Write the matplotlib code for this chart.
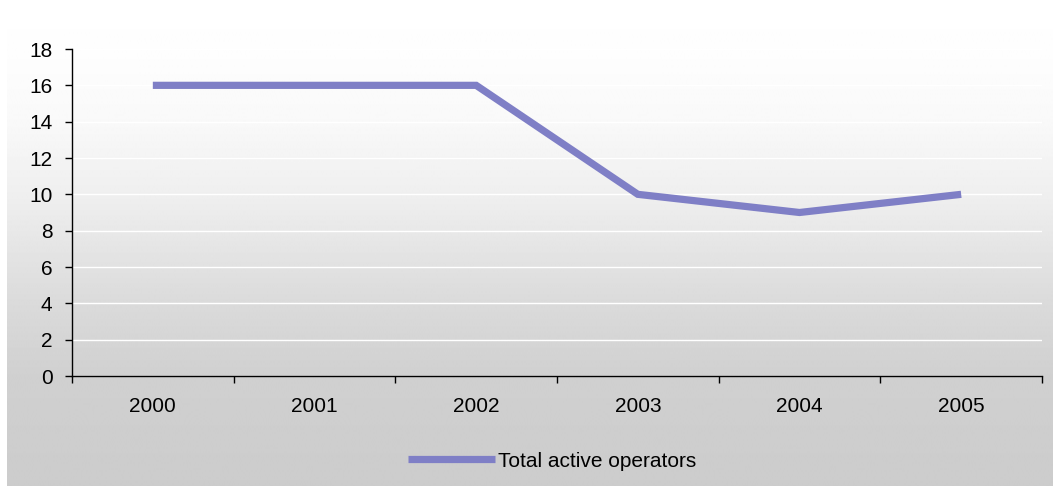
import numpy as np
import matplotlib
matplotlib.use("Agg")
import matplotlib.pyplot as plt
from matplotlib.ticker import FixedLocator, NullFormatter

years = ["2000", "2001", "2002", "2003", "2004", "2005"]
operators = [16, 16, 16, 10, 9, 10]
series_name = "Total active operators"

plt.rcParams["font.family"] = ["Liberation Sans", "DejaVu Sans"]

W, H, DPI = 1053, 486, 100
FS = 15
fig = plt.figure(figsize=(W / DPI, H / DPI), dpi=DPI, facecolor="white")

# vertical white-to-grey backdrop behind the whole chart
bg = fig.add_axes([7 / W, 0, 1 - 7 / W, 1], zorder=-10)
rows = np.arange(H)
shade = np.interp(rows, [0, 60, 120, 200, 300, 376, 486],
                  [255, 253, 249, 238, 219, 208, 204]) / 255.0
img = np.repeat(shade[:, None], 4, axis=1)
bg.imshow(img, cmap="gray", vmin=0, vmax=1, aspect="auto",
          extent=[0, 1, 0, 1], interpolation="bilinear")
bg.set_axis_off()

ax = fig.add_axes([72 / W, 1 - 376 / H, (1042 - 72) / W, (376 - 49) / H])
ax.patch.set_alpha(0)

x = np.arange(len(years))
ax.plot(x, operators, color="#7f7fc6", linewidth=5.2,
        solid_capstyle="butt", solid_joinstyle="miter", zorder=3,
        label=series_name)

ax.set_xlim(-0.5, len(years) - 0.5)
ax.set_ylim(0, 18)
ax.set_yticks(np.arange(0, 19, 2))
ax.yaxis.grid(True, color="white", linewidth=1.0)
ax.set_axisbelow(True)

ax.set_xticks(x)
ax.set_xticklabels(years)
ax.xaxis.set_minor_locator(FixedLocator(np.arange(-0.5, len(years), 1.0)))
ax.xaxis.set_minor_formatter(NullFormatter())
ax.tick_params(axis="x", which="major", length=0, pad=15, labelsize=FS)
ax.tick_params(axis="x", which="minor", length=5, width=1, color="black",
               direction="out")
ax.tick_params(axis="y", which="major", length=5, width=1, color="black",
               direction="out", labelsize=FS, pad=9)

for side in ("top", "right"):
    ax.spines[side].set_visible(False)
for side in ("left", "bottom"):
    ax.spines[side].set_color("black")
    ax.spines[side].set_linewidth(1)

leg = fig.legend(loc="center", bbox_to_anchor=(552 / W, 1 - 461 / H),
                 frameon=False, fontsize=FS, handlelength=4.2,
                 handletextpad=0.15, borderaxespad=0)

fig.savefig("out.png", dpi=DPI, facecolor=fig.get_facecolor())
